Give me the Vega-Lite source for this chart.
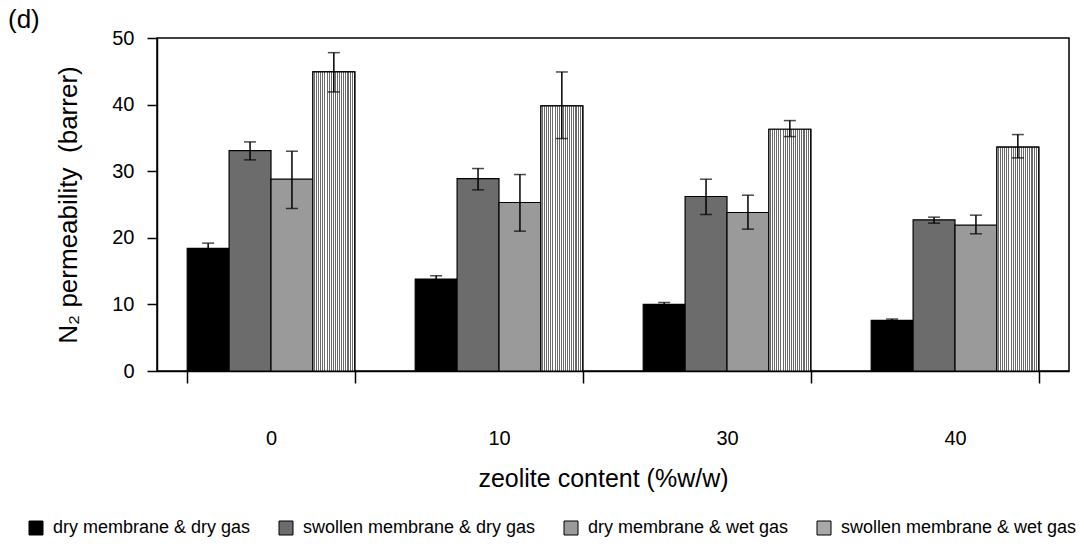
{
  "$schema": "https://vega.github.io/schema/vega-lite/v6.json",
  "width": 912,
  "height": 333,
  "autosize": {"type": "none"},
  "padding": {"left": 157, "top": 38, "right": 15, "bottom": 178},
  "background": "white",
  "title": {
    "text": "(d)",
    "anchor": "start",
    "frame": "group",
    "dx": -149,
    "offset": -5,
    "font": "Liberation Sans",
    "fontSize": 26,
    "fontWeight": "normal",
    "color": "#000000"
  },
  "config": {
    "font": "Liberation Sans",
    "view": {"stroke": "#000000", "strokeWidth": 1.5},
    "axis": {
      "domainColor": "#000000",
      "domainWidth": 1.5,
      "tickColor": "#000000",
      "tickWidth": 1.5,
      "labelColor": "#000000",
      "titleColor": "#000000",
      "labelFont": "Liberation Sans",
      "titleFont": "Liberation Sans",
      "titleFontWeight": "normal",
      "grid": false
    },
    "axisY": {
      "labelFontSize": 20,
      "labelPadding": 13,
      "titleFontSize": 26,
      "titlePadding": 30,
      "tickSize": 10
    }
  },
  "data": {
    "values": [
      {"zeolite": "0", "series": "dry membrane & dry gas", "value": 18.4, "lo": 17.6, "hi": 19.2},
      {"zeolite": "0", "series": "swollen membrane & dry gas", "value": 33.1, "lo": 31.7, "hi": 34.4},
      {"zeolite": "0", "series": "dry membrane & wet gas", "value": 28.8, "lo": 24.4, "hi": 33.0},
      {"zeolite": "0", "series": "swollen membrane & wet gas", "value": 44.9, "lo": 41.9, "hi": 47.8},
      {"zeolite": "10", "series": "dry membrane & dry gas", "value": 13.8, "lo": 13.3, "hi": 14.3},
      {"zeolite": "10", "series": "swollen membrane & dry gas", "value": 28.9, "lo": 27.2, "hi": 30.4},
      {"zeolite": "10", "series": "dry membrane & wet gas", "value": 25.3, "lo": 21.0, "hi": 29.5},
      {"zeolite": "10", "series": "swollen membrane & wet gas", "value": 39.8, "lo": 34.9, "hi": 44.9},
      {"zeolite": "30", "series": "dry membrane & dry gas", "value": 10.0, "lo": 9.8, "hi": 10.3},
      {"zeolite": "30", "series": "swollen membrane & dry gas", "value": 26.2, "lo": 23.5, "hi": 28.8},
      {"zeolite": "30", "series": "dry membrane & wet gas", "value": 23.8, "lo": 21.3, "hi": 26.4},
      {"zeolite": "30", "series": "swollen membrane & wet gas", "value": 36.3, "lo": 35.2, "hi": 37.6},
      {"zeolite": "40", "series": "dry membrane & dry gas", "value": 7.6, "lo": 7.4, "hi": 7.8},
      {"zeolite": "40", "series": "swollen membrane & dry gas", "value": 22.7, "lo": 22.2, "hi": 23.1},
      {"zeolite": "40", "series": "dry membrane & wet gas", "value": 21.9, "lo": 20.6, "hi": 23.4},
      {"zeolite": "40", "series": "swollen membrane & wet gas", "value": 33.6, "lo": 32.0, "hi": 35.5}
    ]
  },
  "encoding": {
    "x": {
      "field": "zeolite",
      "type": "nominal",
      "sort": ["0", "10", "30", "40"],
      "scale": {"paddingInner": 0.265, "paddingOuter": 0.1325},
      "axis": {
        "title": "zeolite content (%w/w)",
        "titleFontSize": 25,
        "titlePadding": 18,
        "titleX": 446,
        "titleAlign": "center",
        "labelFontSize": 20,
        "labelAngle": 0,
        "labelPadding": 45,
        "tickSize": 12,
        "tickBand": "extent"
      }
    },
    "xOffset": {
      "field": "series",
      "type": "nominal",
      "sort": ["dry membrane & dry gas", "swollen membrane & dry gas", "dry membrane & wet gas", "swollen membrane & wet gas"],
      "scale": {"paddingInner": 0, "paddingOuter": 0}
    }
  },
  "layer": [
    {
      "mark": {"type": "bar", "stroke": "#000000", "strokeWidth": 1.2},
      "encoding": {
        "y": {
          "field": "value",
          "type": "quantitative",
          "scale": {"domain": [0, 50]},
          "axis": {"title": "N₂ permeability\u00a0 (barrer)", "values": [0, 10, 20, 30, 40, 50]}
        },
        "fill": {
          "field": "series",
          "type": "nominal",
          "sort": ["dry membrane & dry gas", "swollen membrane & dry gas", "dry membrane & wet gas", "swollen membrane & wet gas"],
          "scale": {"range": ["#000000", "#6c6c6c", "#9a9a9a", "#a8a8a8"]},
          "legend": {
            "title": null,
            "orient": "none",
            "direction": "horizontal",
            "legendX": -130,
            "legendY": 481,
            "symbolType": "square",
            "symbolSize": 196,
            "symbolStrokeColor": "#000000",
            "symbolStrokeWidth": 1,
            "labelFont": "Liberation Sans",
            "labelFontSize": 18,
            "labelColor": "#000000",
            "labelOffset": 8,
            "columnPadding": 26,
            "labelLimit": 400
          }
        }
      }
    },
    {
      "transform": [{"filter": "datum.series === 'swollen membrane & wet gas'"}],
      "mark": {
        "type": "bar",
        "stroke": "#000000",
        "strokeWidth": 1.2,
        "fill": {
          "gradient": "linear",
          "x1": 0, "y1": 0, "x2": 1, "y2": 0,
          "stops": [
            {"offset": 0.0, "color": "#ffffff"}, {"offset": 0.025, "color": "#ffffff"}, {"offset": 0.025, "color": "#6a6a6a"}, {"offset": 0.05, "color": "#6a6a6a"},
            {"offset": 0.05, "color": "#ffffff"}, {"offset": 0.075, "color": "#ffffff"}, {"offset": 0.075, "color": "#6a6a6a"}, {"offset": 0.1, "color": "#6a6a6a"},
            {"offset": 0.1, "color": "#ffffff"}, {"offset": 0.125, "color": "#ffffff"}, {"offset": 0.125, "color": "#6a6a6a"}, {"offset": 0.15, "color": "#6a6a6a"},
            {"offset": 0.15, "color": "#ffffff"}, {"offset": 0.175, "color": "#ffffff"}, {"offset": 0.175, "color": "#6a6a6a"}, {"offset": 0.2, "color": "#6a6a6a"},
            {"offset": 0.2, "color": "#ffffff"}, {"offset": 0.225, "color": "#ffffff"}, {"offset": 0.225, "color": "#6a6a6a"}, {"offset": 0.25, "color": "#6a6a6a"},
            {"offset": 0.25, "color": "#ffffff"}, {"offset": 0.275, "color": "#ffffff"}, {"offset": 0.275, "color": "#6a6a6a"}, {"offset": 0.3, "color": "#6a6a6a"},
            {"offset": 0.3, "color": "#ffffff"}, {"offset": 0.325, "color": "#ffffff"}, {"offset": 0.325, "color": "#6a6a6a"}, {"offset": 0.35, "color": "#6a6a6a"},
            {"offset": 0.35, "color": "#ffffff"}, {"offset": 0.375, "color": "#ffffff"}, {"offset": 0.375, "color": "#6a6a6a"}, {"offset": 0.4, "color": "#6a6a6a"},
            {"offset": 0.4, "color": "#ffffff"}, {"offset": 0.425, "color": "#ffffff"}, {"offset": 0.425, "color": "#6a6a6a"}, {"offset": 0.45, "color": "#6a6a6a"},
            {"offset": 0.45, "color": "#ffffff"}, {"offset": 0.475, "color": "#ffffff"}, {"offset": 0.475, "color": "#6a6a6a"}, {"offset": 0.5, "color": "#6a6a6a"},
            {"offset": 0.5, "color": "#ffffff"}, {"offset": 0.525, "color": "#ffffff"}, {"offset": 0.525, "color": "#6a6a6a"}, {"offset": 0.55, "color": "#6a6a6a"},
            {"offset": 0.55, "color": "#ffffff"}, {"offset": 0.575, "color": "#ffffff"}, {"offset": 0.575, "color": "#6a6a6a"}, {"offset": 0.6, "color": "#6a6a6a"},
            {"offset": 0.6, "color": "#ffffff"}, {"offset": 0.625, "color": "#ffffff"}, {"offset": 0.625, "color": "#6a6a6a"}, {"offset": 0.65, "color": "#6a6a6a"},
            {"offset": 0.65, "color": "#ffffff"}, {"offset": 0.675, "color": "#ffffff"}, {"offset": 0.675, "color": "#6a6a6a"}, {"offset": 0.7, "color": "#6a6a6a"},
            {"offset": 0.7, "color": "#ffffff"}, {"offset": 0.725, "color": "#ffffff"}, {"offset": 0.725, "color": "#6a6a6a"}, {"offset": 0.75, "color": "#6a6a6a"},
            {"offset": 0.75, "color": "#ffffff"}, {"offset": 0.775, "color": "#ffffff"}, {"offset": 0.775, "color": "#6a6a6a"}, {"offset": 0.8, "color": "#6a6a6a"},
            {"offset": 0.8, "color": "#ffffff"}, {"offset": 0.825, "color": "#ffffff"}, {"offset": 0.825, "color": "#6a6a6a"}, {"offset": 0.85, "color": "#6a6a6a"},
            {"offset": 0.85, "color": "#ffffff"}, {"offset": 0.875, "color": "#ffffff"}, {"offset": 0.875, "color": "#6a6a6a"}, {"offset": 0.9, "color": "#6a6a6a"},
            {"offset": 0.9, "color": "#ffffff"}, {"offset": 0.925, "color": "#ffffff"}, {"offset": 0.925, "color": "#6a6a6a"}, {"offset": 0.95, "color": "#6a6a6a"},
            {"offset": 0.95, "color": "#ffffff"}, {"offset": 0.975, "color": "#ffffff"}, {"offset": 0.975, "color": "#6a6a6a"}, {"offset": 1.0, "color": "#6a6a6a"}
          ]
        }
      },
      "encoding": {
        "y": {"field": "value", "type": "quantitative"}
      }
    },
    {
      "mark": {"type": "rule", "color": "#000000", "strokeWidth": 1.5},
      "encoding": {
        "y": {"field": "lo", "type": "quantitative"},
        "y2": {"field": "hi"}
      }
    },
    {
      "mark": {"type": "tick", "color": "#000000", "thickness": 1.5, "size": 12, "orient": "horizontal"},
      "encoding": {
        "y": {"field": "lo", "type": "quantitative"}
      }
    },
    {
      "mark": {"type": "tick", "color": "#000000", "thickness": 1.5, "size": 12, "orient": "horizontal"},
      "encoding": {
        "y": {"field": "hi", "type": "quantitative"}
      }
    }
  ]
}
